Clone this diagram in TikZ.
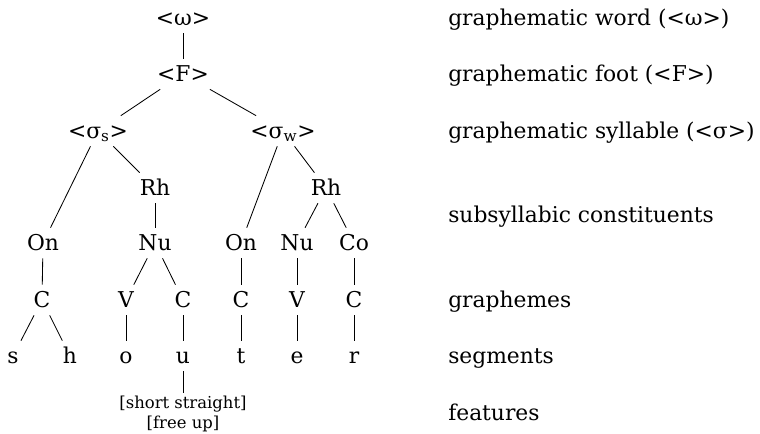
\documentclass[tikz,border=0pt]{standalone}
\usepackage{fontspec}
\setmainfont{DejaVu Serif}
\tikzstyle{tree} = [inner xsep=2pt, inner ysep=3.7pt, text height=12pt, text depth=2pt, font=\fontsize{15.5}{18}\selectfont]
\tikzstyle{level} = [anchor=west, inner sep=0pt, text height=12pt, text depth=2pt, font=\fontsize{15.5}{18}\selectfont]
\tikzstyle{feat} = [align=center, inner sep=2pt, font=\fontsize{11.7}{13.7}\selectfont]
\tikzstyle{branch} = [black, line width=0.6pt]

\begin{document}
\begin{tikzpicture}[scale=0.25]
            \useasboundingbox (0,0) rectangle (76,-43.3);
            \node [tree] (w) at (18.3,-1.8) {<ω>};
            \node [tree] (F) at (18.3,-7.4) {<F>};
            \node [tree] (ss) at (9.8,-13.1) {<σ\textsubscript{s}>};
            \node [tree] (sw) at (28.3,-13.1) {<σ\textsubscript{w}>};
            \node [tree] (rh1) at (15.5,-18.8) {Rh};
            \node [tree] (rh2) at (32.6,-18.8) {Rh};
            \node [tree] (on1) at (4.3,-24.3) {On};
            \node [tree] (nu1) at (15.5,-24.3) {Nu};
            \node [tree] (on2) at (24.1,-24.3) {On};
            \node [tree] (nu2) at (29.7,-24.3) {Nu};
            \node [tree] (co) at (35.4,-24.3) {Co};
            \node [tree] (c1) at (4.2,-30) {C};
            \node [tree] (v1) at (12.6,-30) {V};
            \node [tree] (c2) at (18.3,-30) {C};
            \node [tree] (c3) at (24.1,-30) {C};
            \node [tree] (v2) at (29.7,-30) {V};
            \node [tree] (c4) at (35.4,-30) {C};
            \node [tree] (s) at (1.3,-35.6) {s};
            \node [tree] (h) at (7,-35.6) {h};
            \node [tree] (o) at (12.6,-35.6) {o};
            \node [tree] (u) at (18.3,-35.6) {u};
            \node [tree] (t) at (24.1,-35.6) {t};
            \node [tree] (e) at (29.7,-35.6) {e};
            \node [tree] (r) at (35.4,-35.6) {r};
            \node [feat] (fu) at (18.3,-41.4) {{[}short straight{]}\\{[}free up{]}};
            \draw [branch] (w) -- (F);
            \draw [branch] (F) -- (ss);
            \draw [branch] (F) -- (sw);
            \draw [branch] (ss) -- (on1);
            \draw [branch] (ss) -- (rh1);
            \draw [branch] (sw) -- (on2);
            \draw [branch] (sw) -- (rh2);
            \draw [branch] (rh1) -- (nu1);
            \draw [branch] (rh2) -- (nu2);
            \draw [branch] (rh2) -- (co);
            \draw [branch] (on1) -- (c1);
            \draw [branch] (nu1) -- (v1);
            \draw [branch] (nu1) -- (c2);
            \draw [branch] (on2) -- (c3);
            \draw [branch] (nu2) -- (v2);
            \draw [branch] (co) -- (c4);
            \draw [branch] (c1) -- (s);
            \draw [branch] (c1) -- (h);
            \draw [branch] (v1) -- (o);
            \draw [branch] (c2) -- (u);
            \draw [branch] (c3) -- (t);
            \draw [branch] (v2) -- (e);
            \draw [branch] (c4) -- (r);
            \draw [branch] (u) -- (fu);
            \node [level] (lw) at (44.8,-1.8) {graphematic word (<ω>)};
            \node [level] (lf) at (44.8,-7.4) {graphematic foot (<F>)};
            \node [level] (ls) at (44.8,-13.1) {graphematic syllable (<σ>)};
            \node [level] (lc) at (44.8,-21.5) {subsyllabic constituents};
            \node [level] (lg) at (44.8,-30) {graphemes};
            \node [level] (lseg) at (44.8,-35.6) {segments};
            \node [level] (lfe) at (44.8,-41.3) {features};
\end{tikzpicture}
\end{document}
